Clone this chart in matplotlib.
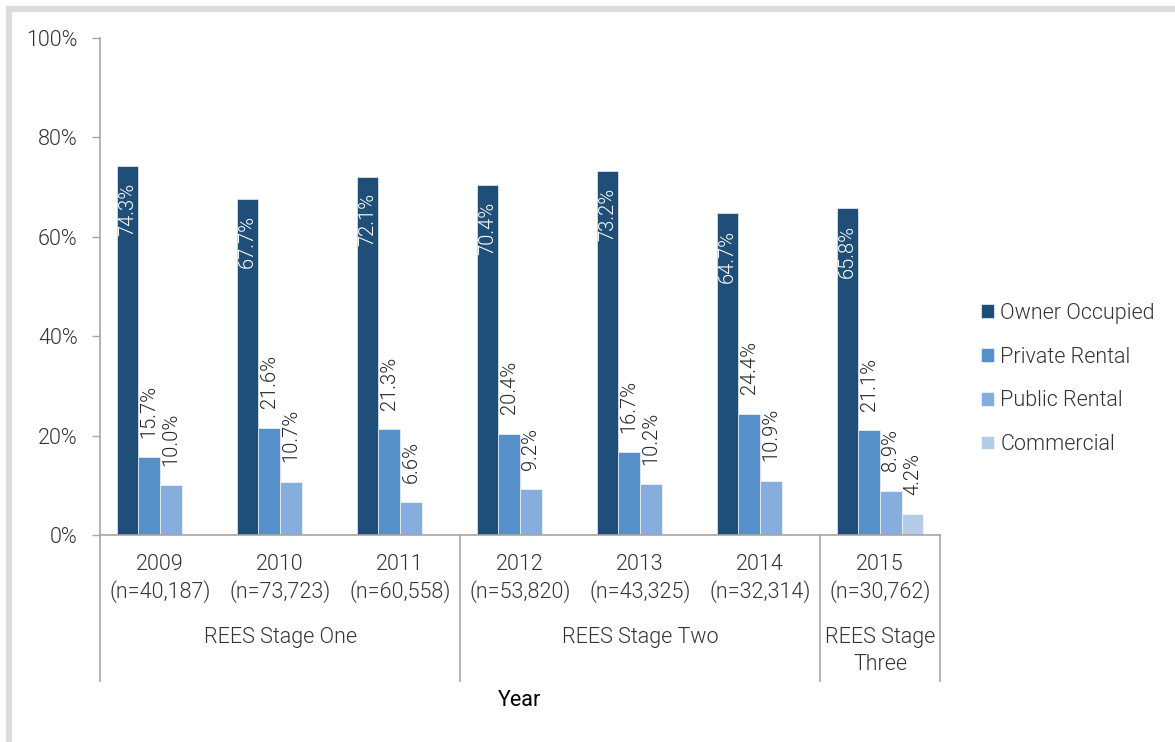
import numpy as np
import matplotlib
matplotlib.use("Agg")
import matplotlib.pyplot as plt
from matplotlib.patches import Rectangle

plt.rcParams['font.family'] = ['Roboto', 'DejaVu Sans']

years = ["2009", "2010", "2011", "2012", "2013", "2014", "2015"]
sample_sizes = ["n=40,187", "n=73,723", "n=60,558", "n=53,820", "n=43,325", "n=32,314", "n=30,762"]
stages = ["REES Stage One", "REES Stage Two", "REES Stage\nThree"]
stage_spans = [(0, 2), (3, 5), (6, 6)]

owner_occupied = [74.3, 67.7, 72.1, 70.4, 73.2, 64.7, 65.8]
private_rental = [15.7, 21.6, 21.3, 20.4, 16.7, 24.4, 21.1]
public_rental = [10.0, 10.7, 6.6, 9.2, 10.2, 10.9, 8.9]
commercial = [np.nan, np.nan, np.nan, np.nan, np.nan, np.nan, 4.2]

series_names = ["Owner Occupied", "Private Rental", "Public Rental", "Commercial"]
series_values = [owner_occupied, private_rental, public_rental, commercial]
colors = ["#1F4E78", "#5591C8", "#86AEDC", "#B5CCE8"]

W, H = 1175, 742
LIGHT = 300
fig = plt.figure(figsize=(W / 100, H / 100), dpi=100)
fig.patch.set_facecolor("white")

# light gray frame around the chart area
fig.add_artist(Rectangle((8.5 / W, -0.2), 2.0, 1.2 - 8.5 / H, transform=fig.transFigure,
                         fill=False, edgecolor="#DCDCDC", linewidth=4.5))

ax = fig.add_axes([100 / W, (H - 535) / H, 840 / W, 497 / H])

x = np.arange(len(years))
bw = 0.18
offsets = [-1.5, -0.5, 0.5, 1.5]
tick_color = "#333333"
fs = 15.5
vfs = 14.5

for name, vals, col, off in zip(series_names, series_values, colors, offsets):
    vals = np.array(vals, dtype=float)
    mask = ~np.isnan(vals)
    ax.bar(x[mask] + off * bw, vals[mask], width=bw, color=col, label=name,
           edgecolor="white", linewidth=0.4)
    for xi, v in zip(x[mask] + off * bw, vals[mask]):
        if name == "Owner Occupied":
            ax.annotate(f"{v:.1f}%", (xi, v), xytext=(0, -12), textcoords="offset points",
                        rotation=90, ha="center", va="top", color="white",
                        fontsize=vfs, fontweight=LIGHT)
        else:
            ax.annotate(f"{v:.1f}%", (xi, v), xytext=(0, 14), textcoords="offset points",
                        rotation=90, ha="center", va="bottom", color="#262626",
                        fontsize=vfs, fontweight=LIGHT)

ax.set_xlim(-0.5, len(years) - 0.5)
ax.set_ylim(0, 100)
ax.set_yticks(np.arange(0, 101, 20))
ax.set_yticklabels([f"{t}%" for t in range(0, 101, 20)])
ax.tick_params(axis="y", length=6, width=1, color="#A6A6A6", pad=10,
               labelsize=fs, labelcolor=tick_color)
for lab in ax.get_yticklabels():
    lab.set_fontweight(LIGHT)

ax.set_xticks([])
for s in ["top", "right"]:
    ax.spines[s].set_visible(False)
for s in ["left", "bottom"]:
    ax.spines[s].set_color("#A6A6A6")
    ax.spines[s].set_linewidth(1.2)

trans = ax.get_xaxis_transform()
axh = 497.0

# year / sample size labels
for xi, yr, n in zip(x, years, sample_sizes):
    ax.text(xi, -(565 - 535) / axh, yr, transform=trans, ha="center", va="center",
            fontsize=fs, color=tick_color, fontweight=LIGHT)
    ax.text(xi, -(592 - 535) / axh, f"({n})", transform=trans, ha="center", va="center",
            fontsize=fs, color=tick_color, fontweight=LIGHT)

# stage labels
for label, (a, b) in zip(stages, stage_spans):
    lines = label.split("\n")
    for i, ln in enumerate(lines):
        ax.text((a + b) / 2, -(637 + 27 * i - 535) / axh, ln, transform=trans,
                ha="center", va="center", fontsize=fs, color=tick_color, fontweight=LIGHT)

# group separators
for sx in [-0.5, 2.5, 5.5, 6.5]:
    ax.plot([sx, sx], [0, -(681 - 535) / axh], transform=trans, color="#A6A6A6",
            linewidth=1.2, clip_on=False)

fig.text(520 / W, (H - 700) / H, "Year", ha="center", va="center", fontsize=fs,
         color="black", fontweight="normal")

ax.legend(loc="center left", bbox_to_anchor=(981 / W, (H - 379) / H),
          bbox_transform=fig.transFigure, frameon=False,
          handlelength=0.6, handleheight=0.6, handletextpad=0.3, labelspacing=1.06,
          borderpad=0, borderaxespad=0, labelcolor=tick_color,
          prop={"weight": LIGHT, "size": fs})

fig.savefig("out.png", dpi=100)
